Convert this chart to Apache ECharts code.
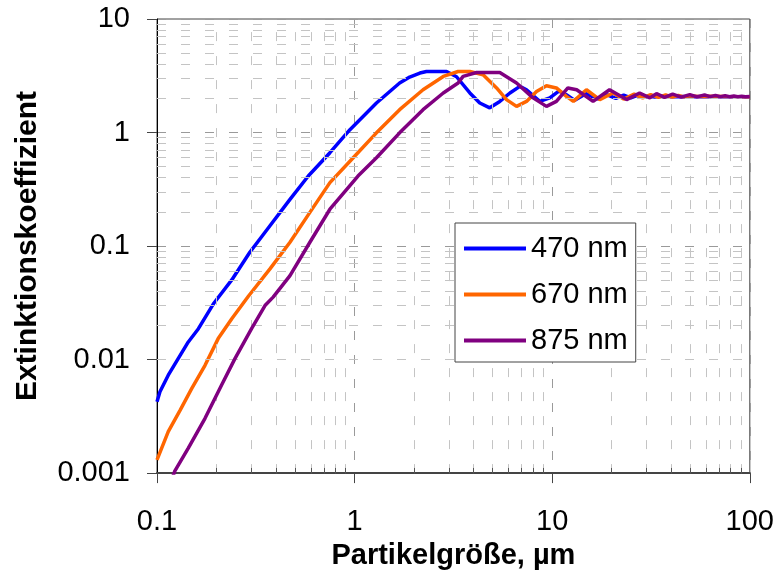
<!DOCTYPE html>
<html>
<head>
<meta charset="utf-8">
<script src="https://cdn.jsdelivr.net/npm/echarts@6/dist/echarts.min.js"></script>
<style>html,body{margin:0;padding:0;background:#fff}#c{width:777px;height:575px}</style>
</head>
<body>
<div id="c"></div>
<script>
// Particle size (µm) and extinction coefficient
const d470 = [0.100, 0.1035, 0.114, 0.128, 0.144, 0.162, 0.193, 0.239, 0.295, 0.373, 0.471, 0.583, 0.750, 0.947, 1.29, 1.69, 1.90, 2.14, 2.31, 2.92, 3.28, 3.83, 4.30, 4.83, 5.43, 6.11, 6.86, 7.41, 8.65, 9.72, 10.8, 11.8, 13.0, 14.8, 17.0, 19.0, 21, 23, 25, 27, 29, 31, 33, 35, 40, 50, 70, 100];
const q470 = [0.00425, 0.00521, 0.00728, 0.0102, 0.0143, 0.0187, 0.0310, 0.0503, 0.0881, 0.151, 0.258, 0.414, 0.664, 1.06, 1.82, 2.73, 3.08, 3.34, 3.45, 3.45, 3.10, 2.23, 1.82, 1.65, 1.88, 2.23, 2.55, 2.38, 1.88, 2.02, 2.32, 2.15, 1.92, 2.2, 1.98, 2.15, 2.0, 2.13, 2.02, 2.12, 2.04, 2.1, 2.05, 2.09, 2.07, 2.08, 2.07, 2.07];

const d670 = [0.100, 0.114, 0.131, 0.150, 0.175, 0.204, 0.239, 0.290, 0.373, 0.471, 0.594, 0.750, 0.984, 1.29, 1.69, 2.22, 2.81, 3.34, 3.83, 4.47, 5.23, 5.87, 6.60, 7.41, 8.33, 9.35, 10.5, 11.8, 12.8, 14.9, 17.4, 20.3, 23.0, 26.0, 28.7, 31.5, 34.5, 37.5, 40.5, 43.5, 46.5, 49.5, 55, 62, 75, 100];
const q670 = [0.00131, 0.00232, 0.00359, 0.00557, 0.00891, 0.0153, 0.0229, 0.0361, 0.0629, 0.108, 0.198, 0.362, 0.600, 0.994, 1.59, 2.38, 3.12, 3.45, 3.45, 3.23, 2.47, 1.95, 1.70, 1.88, 2.30, 2.58, 2.47, 2.08, 1.88, 2.38, 1.95, 2.23, 1.97, 2.18, 2.02, 2.16, 2.04, 2.14, 2.05, 2.12, 2.06, 2.11, 2.08, 2.09, 2.08, 2.07];

const d875 = [0.118, 0.123, 0.144, 0.175, 0.212, 0.248, 0.301, 0.352, 0.387, 0.471, 0.594, 0.750, 1.04, 1.29, 1.69, 2.22, 2.81, 3.34, 3.54, 4.14, 5.43, 6.60, 8.00, 9.35, 10.5, 12.0, 13.3, 16.1, 19.5, 23.8, 27.7, 31.2, 33.7, 37, 40.7, 45, 49.7, 54, 59, 63, 67, 71, 75, 79, 83, 87, 91, 95, 100];
const q875 = [0.00085, 0.00104, 0.00166, 0.00304, 0.00595, 0.0102, 0.0187, 0.0299, 0.0355, 0.0549, 0.108, 0.211, 0.414, 0.600, 0.994, 1.59, 2.23, 2.73, 3.12, 3.38, 3.38, 2.73, 2.02, 1.70, 1.88, 2.47, 2.38, 1.88, 2.38, 1.95, 2.23, 2.02, 2.2, 2.04, 2.18, 2.05, 2.16, 2.06, 2.14, 2.07, 2.12, 2.07, 2.11, 2.07, 2.1, 2.07, 2.09, 2.07, 2.08];

const seriesNames = ['470 nm', '670 nm', '875 nm'];
const seriesColors = ['#0000ff', '#ff6600', '#800080'];
const xDecades = [0.1, 1, 10];
const yDecades = [0.001, 0.01, 0.1, 1];
const minorSteps = [2, 3, 4, 5, 6, 7, 8, 9];

const FONT = 'Liberation Sans, Arial, sans-serif';
const pairs = (xs, ys) => xs.map((x, i) => [x, ys[i]]);
const fmt = v => String(parseFloat(Number(v).toPrecision(3)));

const xMinor = [], yMinor = [];
xDecades.forEach(d => minorSteps.forEach(k => xMinor.push(parseFloat((d * k).toPrecision(3)))));
yDecades.forEach(d => minorSteps.forEach(k => yMinor.push(parseFloat((d * k).toPrecision(3)))));

const gridMarks = [];
yMinor.forEach(v => gridMarks.push({ yAxis: v, lineStyle: { color: '#c4c4c4', type: [9, 15], width: 1 } }));
xMinor.forEach(v => gridMarks.push({ xAxis: v, lineStyle: { color: '#c4c4c4', type: [9, 15], width: 1 } }));
xMinor.forEach(v => gridMarks.push([{ coord: [v, 0.001], lineStyle: { color: '#555', type: 'solid', width: 1 } }, { coord: [v, 0.00111] }]));

const chart = echarts.init(document.getElementById('c'), null, { renderer: 'canvas' });
chart.setOption({
  animation: false,
  backgroundColor: '#fff',
  grid: { left: 157, right: 27, top: 19, bottom: 100, show: true, borderColor: '#444', borderWidth: 1, backgroundColor: '#fff' },
  xAxis: {
    type: 'log', logBase: 10, min: 0.1, max: 100,
    name: 'Partikelgröße, µm', nameLocation: 'middle', nameGap: 60,
    nameTextStyle: { fontFamily: FONT, fontWeight: 'bold', fontSize: 29, color: '#000' },
    axisLine: { show: true, onZero: false, lineStyle: { color: '#444', width: 2 } },
    axisTick: { show: true, inside: false, length: 10, lineStyle: { color: '#444' } },
    axisLabel: { fontFamily: FONT, fontSize: 29, color: '#000', margin: 34, formatter: fmt },
    splitLine: { show: true, lineStyle: { color: '#9a9a9a', type: [9, 15] } },
    minorTick: { show: false }, minorSplitLine: { show: false }
  },
  yAxis: {
    type: 'log', logBase: 10, min: 0.001, max: 10,
    name: 'Extinktionskoeffizient', nameLocation: 'middle', nameGap: 114, nameRotate: 90,
    nameTextStyle: { fontFamily: FONT, fontWeight: 'bold', fontSize: 30, color: '#000' },
    axisLine: { show: true, onZero: false, lineStyle: { color: '#000', width: 1 } },
    axisTick: { show: true, inside: false, length: 10, lineStyle: { color: '#444' } },
    axisLabel: { fontFamily: FONT, fontSize: 29, color: '#000', margin: 27, formatter: fmt },
    splitLine: { show: true, lineStyle: { color: '#9a9a9a', type: [9, 15] } },
    minorTick: { show: false }, minorSplitLine: { show: false }
  },
  legend: {
    data: seriesNames.map((n, i) => ({ name: n, icon: 'rect', itemStyle: { color: seriesColors[i] } })),
    orient: 'vertical', left: 455, top: 223, z: 20,
    itemWidth: 62, itemHeight: 4, itemGap: 17,
    padding: [11, 8, 7, 9],
    backgroundColor: '#fff', borderColor: '#444', borderWidth: 1,
    textStyle: { fontFamily: FONT, fontSize: 29, color: '#000' }
  },
  series: [
    { name: 'grid', type: 'line', data: [], silent: true, z: 1,
      markLine: { silent: true, symbol: ['none', 'none'], label: { show: false }, animation: false, data: gridMarks } },
    { name: seriesNames[0], type: 'line', data: pairs(d470, q470), showSymbol: false, symbol: 'none', z: 3,
      lineStyle: { color: seriesColors[0], width: 3.5 }, itemStyle: { color: seriesColors[0] } },
    { name: seriesNames[1], type: 'line', data: pairs(d670, q670), showSymbol: false, symbol: 'none', z: 4,
      lineStyle: { color: seriesColors[1], width: 3.5 }, itemStyle: { color: seriesColors[1] } },
    { name: seriesNames[2], type: 'line', data: pairs(d875, q875), showSymbol: false, symbol: 'none', z: 5,
      lineStyle: { color: seriesColors[2], width: 3.5 }, itemStyle: { color: seriesColors[2] } }
  ]
});
</script>
</body>
</html>
